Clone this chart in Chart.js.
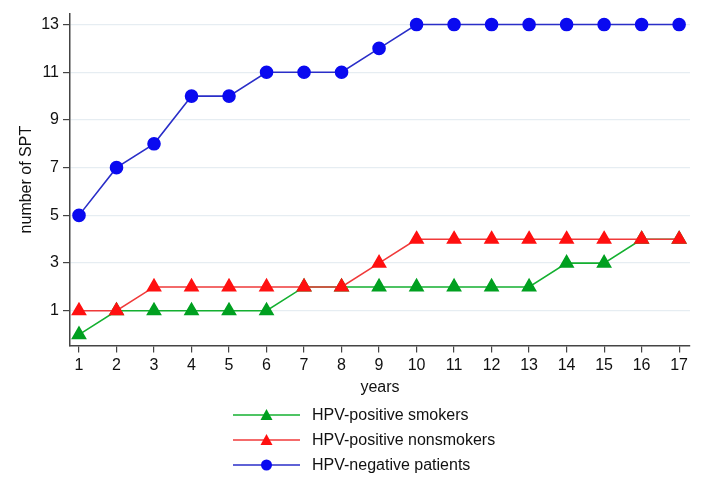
<!DOCTYPE html>
<html>
<head>
<meta charset="utf-8">
<script src="https://cdn.jsdelivr.net/npm/chart.js@4"></script>
<style>
  html, body { margin: 0; padding: 0; background: #fff; }
  #wrap { width: 703px; height: 500px; position: relative; }
</style>
</head>
<body>
<div id="wrap"><canvas id="myChart" width="703" height="500"></canvas></div>
<script>
const years = [1, 2, 3, 4, 5, 6, 7, 8, 9, 10, 11, 12, 13, 14, 15, 16, 17];
const smokers = [0, 1, 1, 1, 1, 1, 2, 2, 2, 2, 2, 2, 2, 3, 3, 4, 4];
const nonsmokers = [1, 1, 2, 2, 2, 2, 2, 2, 3, 4, 4, 4, 4, 4, 4, 4, 4];
const negative = [5, 7, 8, 10, 10, 11, 11, 11, 12, 13, 13, 13, 13, 13, 13, 13, 13];
const yTicks = [1, 3, 5, 7, 9, 11, 13];
const seriesNames = ['HPV-positive smokers', 'HPV-positive nonsmokers', 'HPV-negative patients'];

const font = "'Liberation Sans', Arial, sans-serif";

function pts(vals) {
    return years.map((x, i) => ({ x: x, y: vals[i] }));
}

// legend drawn under the x title, one row per series
const stackLegend = {
    id: 'stackLegend',
    afterDraw(chart) {
        const ctx = chart.ctx;
        const x0 = 233, x1 = 300, tx = 312;
        const rows = [415, 440, 465];
        chart.data.datasets.forEach((ds, i) => {
            const y = rows[i];
            ctx.save();
            ctx.strokeStyle = ds.borderColor;
            ctx.lineWidth = 1.6;
            ctx.beginPath();
            ctx.moveTo(x0, y);
            ctx.lineTo(x1, y);
            ctx.stroke();
            ctx.fillStyle = ds.pointBackgroundColor;
            ctx.beginPath();
            const cx = (x0 + x1) / 2;
            if (ds.pointStyle === 'triangle') {
                ctx.moveTo(cx, y - 6);
                ctx.lineTo(cx + 6, y + 5);
                ctx.lineTo(cx - 6, y + 5);
                ctx.closePath();
            } else {
                ctx.arc(cx, y, 5.5, 0, Math.PI * 2);
            }
            ctx.fill();
            ctx.fillStyle = '#111';
            ctx.font = '16px ' + font;
            ctx.textBaseline = 'middle';
            ctx.fillText(ds.label, tx, y + 1);
            ctx.restore();
        });
    }
};

const ctx = document.getElementById('myChart').getContext('2d');
const myChart = new Chart(ctx, {
    type: 'line',
    data: {
        datasets: [{
            label: seriesNames[0],
            data: pts(smokers),
            borderColor: '#14b030',
            backgroundColor: '#00a020',
            pointBackgroundColor: '#00a020',
            pointBorderColor: '#00a020',
            pointStyle: 'triangle',
            pointRadius: 7.5,
            borderWidth: 1.6,
            order: 3
        }, {
            label: seriesNames[1],
            data: pts(nonsmokers),
            borderColor: '#f03a3a',
            backgroundColor: '#ff1010',
            pointBackgroundColor: '#ff1010',
            pointBorderColor: '#ff1010',
            pointStyle: 'triangle',
            pointRadius: 7.5,
            borderWidth: 1.6,
            order: 2
        }, {
            label: seriesNames[2],
            data: pts(negative),
            borderColor: '#2a2ec8',
            backgroundColor: '#0a0af0',
            pointBackgroundColor: '#0a0af0',
            pointBorderColor: '#0a0af0',
            pointStyle: 'circle',
            pointRadius: 6,
            borderWidth: 1.6,
            order: 1
        }]
    },
    options: {
        responsive: false,
        animation: false,
        layout: {
            padding: { left: 17, right: 13, top: 13, bottom: 103 }
        },
        plugins: {
            legend: { display: false },
            tooltip: { enabled: false }
        },
        scales: {
            x: {
                type: 'linear',
                min: 0.76,
                max: 17.29,
                afterBuildTicks: (axis) => { axis.ticks = years.map(v => ({ value: v })); },
                grid: { drawOnChartArea: false, drawTicks: true, tickLength: 7, tickColor: '#444', lineWidth: 1.2 },
                border: { color: '#444', width: 1.5 },
                ticks: { color: '#111', font: { family: font, size: 16 }, padding: 3, maxRotation: 0 },
                title: { display: true, text: 'years', color: '#111', font: { family: font, size: 16 }, padding: { top: 0, bottom: 0 } }
            },
            y: {
                type: 'linear',
                min: -0.46,
                max: 13.46,
                afterBuildTicks: (axis) => { axis.ticks = yTicks.map(v => ({ value: v })); },
                grid: { color: '#e6edf2', lineWidth: 1.2, drawTicks: true, tickLength: 7, tickColor: '#444' },
                border: { color: '#444', width: 1.5 },
                ticks: { color: '#111', font: { family: font, size: 16 }, padding: 4 },
                title: { display: true, text: 'number of SPT', color: '#111', font: { family: font, size: 16 }, padding: { top: 0, bottom: 1 } }
            }
        }
    },
    plugins: [stackLegend]
});
</script>
</body>
</html>
